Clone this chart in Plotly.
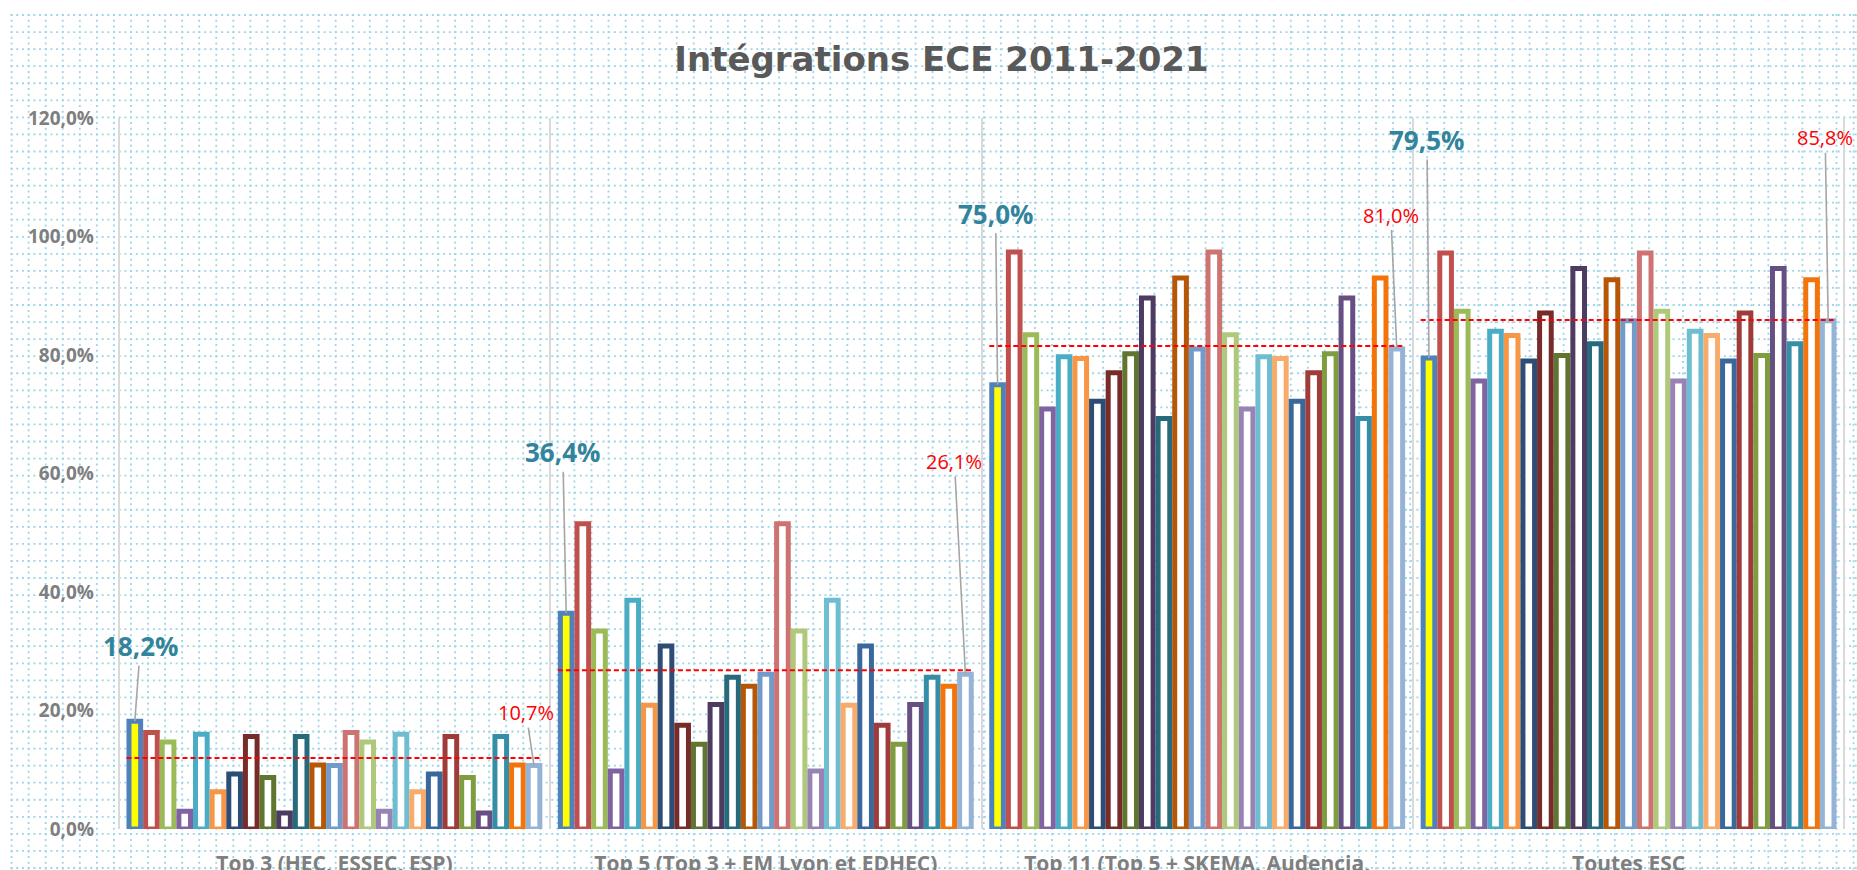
import base64
import colorsys
import plotly.graph_objects as go

# ---------------- data ----------------
categories = [
    "Top 3 (HEC, ESSEC, ESP)",
    "Top 5 (Top 3 + EM Lyon et EDHEC)",
    "Top 11 (Top 5 + SKEMA, Audencia,<br>NEOMA, KEDGE, GEM, TBS)",
    "Toutes ESC",
]

top3_values = [18.2, 16.3, 14.7, 3.0, 16.0, 6.3, 9.3, 15.6, 8.7, 2.7, 15.6, 10.8, 10.7,
               16.3, 14.7, 3.0, 16.0, 6.3, 9.3, 15.6, 8.7, 2.7, 15.6, 10.8, 10.7]
top5_values = [36.4, 51.5, 33.4, 9.8, 38.6, 20.9, 30.9, 17.5, 14.3, 21.0, 25.6, 24.1, 26.1,
               51.5, 33.4, 9.8, 38.6, 20.9, 30.9, 17.5, 14.3, 21.0, 25.6, 24.1, 26.1]
top11_values = [75.0, 97.4, 83.4, 70.9, 79.7, 79.4, 72.2, 77.0, 80.2, 89.6, 69.3, 93.0, 81.0,
                97.4, 83.4, 70.9, 79.7, 79.4, 72.2, 77.0, 80.2, 89.6, 69.3, 93.0, 81.0]
esc_values = [79.5, 97.2, 87.4, 75.6, 84.0, 83.3, 79.0, 87.1, 79.9, 94.6, 81.9, 92.7, 85.8,
              97.2, 87.4, 75.6, 84.0, 83.3, 79.0, 87.1, 79.9, 94.6, 81.9, 92.7, 85.8]
average_line = [12.0, 26.8, 81.5, 85.9]

y_ticks = [0, 20, 40, 60, 80, 100, 120]
title_text = "Intégrations ECE 2011-2021"

groups = [top3_values, top5_values, top11_values, esc_values]
n_series = len(top3_values)
first_idx, last_idx = 0, n_series - 1


def fmt(v):
    return f"{v:.1f}%".replace(".", ",")


# ---------------- style ----------------
W, H = 1857, 870
PAD = 0.004                       # small x-range padding so edge separators are drawn
CAT_PX = 431.25                   # pixel width of one category
ML = 119 - PAD * CAT_PX
PW = CAT_PX * (len(categories) + 2 * PAD)
MR = W - ML - PW
MT, MB = 118, 41
PH = H - MT - MB
BARGAP, BARGROUPGAP = 0.036, 0.30
FONT = "Open Sans"

accents = ["#4F81BD", "#C0504D", "#9BBB59", "#8064A2", "#4BACC6", "#F79646"]
variants = [(1.0, 0.0), (0.6, 0.0), (0.8, 0.2), (0.8, 0.0), (0.6, 0.4)]


def shade(hexc, mod, off):
    r, g, b = (int(hexc[i:i + 2], 16) / 255 for i in (1, 3, 5))
    h, l, s = colorsys.rgb_to_hls(r, g, b)
    l = min(1.0, l * mod + off)
    r, g, b = colorsys.hls_to_rgb(h, l, s)
    return "#%02X%02X%02X" % (round(r * 255), round(g * 255), round(b * 255))


colors = [shade(accents[k % 6], *variants[k // 6]) for k in range(n_series)]

fig = go.Figure()
for j in range(n_series):
    fig.add_trace(go.Bar(
        x=categories,
        y=[g[j] for g in groups],
        name=f"Série {j + 1}",
        marker=dict(color="#FFFF00" if j == 0 else "#FFFFFF",
                    line=dict(color=colors[j], width=5)),
        showlegend=False,
    ))

# positions of bars in category units (derived from bargap / series count)
group_w = 1 - BARGAP
slot = group_w / n_series


def bar_x(i, j):
    return i - group_w / 2 + (j + 0.5) * slot


# dashed average line per group
for i, v in enumerate(average_line):
    fig.add_shape(type="line", xref="x", yref="y",
                  x0=i - group_w / 2, x1=i + group_w / 2, y0=v, y1=v,
                  line=dict(color="#FF0000", width=2, dash="5px,3px"))

first_offsets = [(5.6, -75), (-3.4, -161), (-2, -171), (-2, -218)]
last_offsets = [(-8, -53), (-11, -213), (-6, -134), (-3, -183)]
for i, g in enumerate(groups):
    ax, ay = first_offsets[i]
    fig.add_annotation(x=bar_x(i, first_idx), y=g[first_idx], xref="x", yref="y",
                       text=fmt(g[first_idx]), showarrow=True, arrowhead=0,
                       arrowwidth=1.6, arrowcolor="#A6A6A6", ax=ax, ay=ay,
                       font=dict(family=FONT, size=26, color="#31849B", weight="bold"))
    ax, ay = last_offsets[i]
    fig.add_annotation(x=bar_x(i, last_idx), y=g[last_idx], xref="x", yref="y",
                       text=fmt(g[last_idx]), showarrow=True, arrowhead=0,
                       arrowwidth=1.6, arrowcolor="#A6A6A6", ax=ax, ay=ay,
                       font=dict(family=FONT, size=20, color="#FF0000"))

# dotted background pattern
step_x, step_y = 17.05, 17.06
ox, oy = 11.9, 15.0
parts = []
x = ox
while x < W:
    parts.append(f'<line x1="{x:.2f}" y1="{oy - 1}" x2="{x:.2f}" y2="{H}"/>')
    x += step_x
y = oy
while y < H:
    parts.append(f'<line x1="{ox - 1}" y1="{y:.2f}" x2="{W}" y2="{y:.2f}"/>')
    y += step_y
svg = (f'<svg xmlns="http://www.w3.org/2000/svg" width="{W}" height="{H}" viewBox="0 0 {W} {H}">'
       f'<g stroke="#9ED5E8" stroke-width="1.8" stroke-dasharray="2,3.69" fill="none">'
       + "".join(parts) + "</g></svg>")
uri = "data:image/svg+xml;base64," + base64.b64encode(svg.encode()).decode()

fig.add_layout_image(dict(source=uri, xref="paper", yref="paper",
                          x=-ML / PW, y=1 + MT / PH, sizex=W / PW, sizey=H / PH,
                          xanchor="left", yanchor="top", sizing="stretch", layer="below"))

fig.update_layout(
    width=W, height=H,
    margin=dict(l=ML, r=MR, t=MT, b=MB, pad=0, autoexpand=False),
    paper_bgcolor="#FFFFFF", plot_bgcolor="rgba(0,0,0,0)",
    barmode="group", bargap=BARGAP, bargroupgap=BARGROUPGAP,
    title=dict(text=title_text, x=941.5 / W, xanchor="center", y=1 - 59 / H, yanchor="middle",
               font=dict(family="DejaVu Sans", size=34, color="#595959", weight="bold")),
    xaxis=dict(type="category", range=[-0.5 - PAD, len(categories) - 0.5 + PAD],
               tickson="boundaries", showgrid=True, gridcolor="#D9D9D9",
               gridwidth=2, ticks="", showline=False, zeroline=False, automargin=False,
               ticklabelstandoff=20,
               tickfont=dict(family=FONT, size=21, color="#7F7F7F", weight="bold")),
    yaxis=dict(range=[0, 120], tickvals=y_ticks, ticktext=[fmt(v) for v in y_ticks],
               showgrid=False, zeroline=False, showline=False, ticks="", automargin=False,
               ticklabelstandoff=22,
               tickfont=dict(family=FONT, size=19, color="#7F7F7F", weight="bold")),
)

fig.write_html("out.html", config={"displayModeBar": False},
               post_script="document.body.style.margin='0';")
